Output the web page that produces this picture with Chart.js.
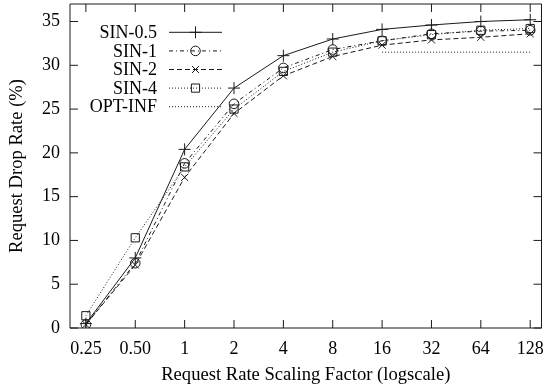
<!DOCTYPE html>
<html>
<head>
<meta charset="utf-8">
<script src="https://cdn.jsdelivr.net/npm/chart.js@4/dist/chart.umd.min.js"></script>
<style>
  html, body { margin: 0; padding: 0; background: #fff; }
  #wrap { width: 543px; height: 389px; }
</style>
</head>
<body>
<div id="wrap"><canvas id="chart" width="543" height="389"></canvas></div>
<script>
// Request rate scaling factors (x, plotted on a log axis) and their tick labels
const scalingFactors = [0.25, 0.5, 1, 2, 4, 8, 16, 32, 64, 128];
const factorLabels = ['0.25', '0.50', '1', '2', '4', '8', '16', '32', '64', '128'];
const dropRateTicks = [0, 5, 10, 15, 20, 25, 30, 35];

// Request drop rate (%) per configuration
const sin05 = [0.5, 8.0, 20.4, 27.4, 31.1, 33.0, 34.1, 34.6, 35.0, 35.2];
const sin1  = [0.4, 7.4, 18.8, 25.6, 29.7, 31.8, 32.8, 33.6, 33.9, 34.0];
const sin2  = [0.4, 7.2, 17.2, 24.5, 28.8, 31.0, 32.3, 32.9, 33.2, 33.6];
const sin4  = [1.4, 10.3, 18.4, 25.0, 29.3, 31.5, 32.8, 33.5, 34.0, 34.2];
const optInf = [null, null, null, null, null, null, 31.5, 31.5, 31.5, 31.5];

const seriesNames = ['SIN-0.5', 'SIN-1', 'SIN-2', 'SIN-4', 'OPT-INF'];

const FAMILY = '"Liberation Serif", "Times New Roman", serif';
const FONT = { family: FAMILY, size: 18 };
const TITLE_FONT = { family: FAMILY, size: 18.6 };
const INK = '#1a1a1a';

function toPoints(values) {
  return scalingFactors.map((f, i) => ({ x: f, y: values[i] }));
}

function series(label, values, dash, pointStyle, radius) {
  return {
    label,
    data: toPoints(values),
    borderColor: INK,
    borderWidth: 1,
    borderDash: dash,
    pointStyle: pointStyle,
    pointRadius: radius,
    pointBorderColor: INK,
    pointBackgroundColor: 'rgba(0,0,0,0)',
    pointBorderWidth: 1,
    pointHoverRadius: radius,
    fill: false,
    tension: 0,
    spanGaps: false
  };
}

const datasets = [
  series(seriesNames[0], sin05, [], 'cross', 6),
  series(seriesNames[1], sin1, [4, 3, 1, 3], 'circle', 4.8),
  series(seriesNames[2], sin2, [5, 3], 'crossRot', 5),
  series(seriesNames[3], sin4, [1, 2], 'rect', 5.8),
  series(seriesNames[4], optInf, [1, 2], false, 0)
];

// Labels may overhang the plot box; keep the box where the layout padding puts it
function noOverhang(scale) {
  scale.paddingLeft = scale.paddingRight = scale.paddingTop = scale.paddingBottom = 0;
}

// Box frame with inward ticks on all four sides
const framePlugin = {
  id: 'frame',
  afterDatasetsDraw(chart) {
    const { ctx, chartArea: a, scales } = chart;
    const len = 8;
    ctx.save();
    ctx.strokeStyle = INK;
    ctx.lineWidth = 1;
    ctx.setLineDash([]);
    ctx.beginPath();
    ctx.rect(a.left, a.top, a.right - a.left, a.bottom - a.top);
    scales.x.ticks.forEach(t => {
      const px = scales.x.getPixelForValue(t.value);
      ctx.moveTo(px, a.bottom); ctx.lineTo(px, a.bottom - len);
      ctx.moveTo(px, a.top); ctx.lineTo(px, a.top + len);
    });
    scales.y.ticks.forEach(t => {
      const py = scales.y.getPixelForValue(t.value);
      ctx.moveTo(a.left, py); ctx.lineTo(a.left + len, py);
      ctx.moveTo(a.right, py); ctx.lineTo(a.right - len, py);
    });
    ctx.stroke();
    ctx.restore();
  }
};

// Key in the upper left: right-aligned names, then a line sample with its marker
const keyPlugin = {
  id: 'key',
  afterDraw(chart) {
    const { ctx } = chart;
    const textRight = 157, lineStart = 169, lineEnd = 222, top = 32.3, step = 18.6;
    ctx.save();
    ctx.font = `${FONT.size}px ${FONT.family}`;
    ctx.textAlign = 'right';
    ctx.textBaseline = 'middle';
    chart.data.datasets.forEach((ds, i) => {
      const y = top + i * step;
      ctx.fillStyle = '#000';
      ctx.fillText(ds.label, textRight, y + 1);
      ctx.strokeStyle = INK;
      ctx.lineWidth = 1;
      ctx.setLineDash(ds.borderDash || []);
      ctx.beginPath();
      ctx.moveTo(lineStart, y);
      ctx.lineTo(lineEnd, y);
      ctx.stroke();
      ctx.setLineDash([]);
      if (ds.pointStyle) {
        ctx.fillStyle = 'rgba(0,0,0,0)';
        Chart.helpers.drawPoint(ctx, {
          pointStyle: ds.pointStyle,
          radius: ds.pointRadius,
          borderWidth: 1,
          rotation: 0
        }, (lineStart + lineEnd) / 2, y);
      }
    });
    ctx.restore();
  }
};

new Chart(document.getElementById('chart'), {
  type: 'line',
  data: { datasets },
  options: {
    responsive: false,
    animation: false,
    devicePixelRatio: 1,
    layout: { autoPadding: false, padding: { left: 0, right: 1.5, top: 4, bottom: 0 } },
    plugins: {
      legend: { display: false },
      tooltip: { enabled: false }
    },
    scales: {
      x: {
        type: 'logarithmic',
        min: 0.2,
        max: 150,
        afterBuildTicks(scale) {
          scale.ticks = scalingFactors.map(v => ({ value: v }));
        },
        afterFit(scale) {
          scale.height = 61;
          noOverhang(scale);
        },
        ticks: {
          autoSkip: false,
          maxRotation: 0,
          padding: 10,
          color: '#000',
          font: FONT,
          callback: (value, index) => factorLabels[index]
        },
        grid: { display: false, drawTicks: false },
        border: { display: false },
        title: {
          display: true,
          text: 'Request Rate Scaling Factor (logscale)',
          color: '#000',
          font: TITLE_FONT,
          padding: { top: 0, bottom: 3 }
        }
      },
      y: {
        type: 'linear',
        min: 0,
        max: 37,
        afterBuildTicks(scale) {
          scale.ticks = dropRateTicks.map(v => ({ value: v }));
        },
        afterFit(scale) {
          scale.width = 70;
          noOverhang(scale);
        },
        ticks: {
          padding: 10,
          color: '#000',
          font: FONT
        },
        grid: { display: false, drawTicks: false },
        border: { display: false },
        title: {
          display: true,
          text: 'Request Drop Rate (%)',
          color: '#000',
          font: TITLE_FONT,
          padding: { top: 6, bottom: 0 }
        }
      }
    }
  },
  plugins: [framePlugin, keyPlugin]
});
</script>
</body>
</html>
